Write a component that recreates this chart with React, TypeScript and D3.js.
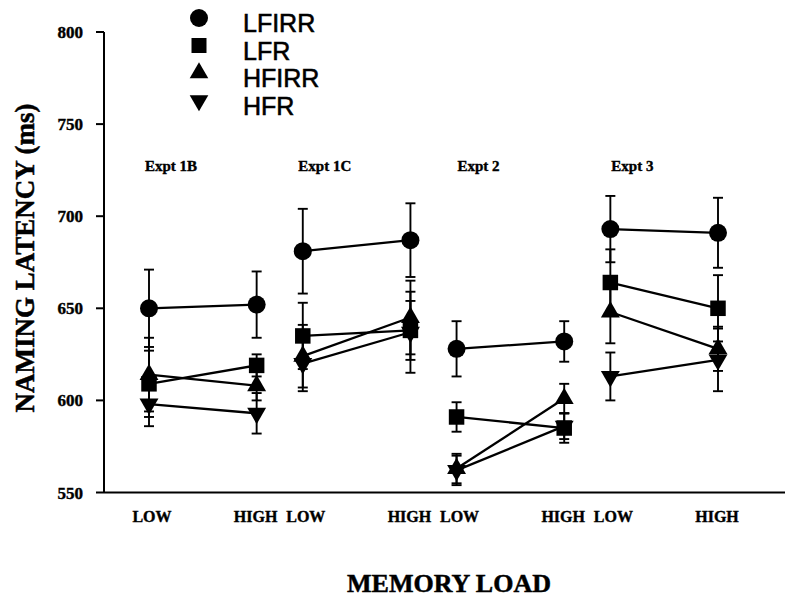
import React from 'react'
import * as d3 from 'd3'

// four experiments, each measured at two memory loads
const experiments = ['Expt 1B', 'Expt 1C', 'Expt 2', 'Expt 3']
const loads = ['LOW', 'HIGH']
const yTicks = [550, 600, 650, 700, 750, 800]

// means (ms), ordered exp1 LOW, exp1 HIGH, exp2 LOW, ...
const lfirr = [650, 652, 681, 687, 628, 632, 693, 691]
const lfr = [609, 619, 635, 638, 591, 585, 664, 650]
const hfirr = [614, 608, 624, 645, 563, 601, 648, 628]
const hfr = [598, 593, 620, 637, 562, 586, 613, 622]

// standard errors
const lfirrErr = [21, 18, 23, 20, 15, 11, 18, 19]
const lfrErr = [18, 6, 18, 16, 8, 8, 18, 18]
const hfirrErr = [20, 8, 17, 20, 8, 8, 17, 12]
const hfrErr = [12, 11, 15, 22, 8, 7, 13, 17]

const seriesNames = ['LFIRR', 'LFR', 'HFIRR', 'HFR']

const serif = '"Liberation Serif", "Times New Roman", serif'
const sans = '"Liberation Sans", Arial, sans-serif'

const App = () => {
  const width = 785
  const height = 599

  // an experiment is one unit wide, HIGH sits 0.7 after LOW
  const xScale = d3.scaleLinear().domain([0, 3.7]).range([149, 718])
  const yScale = d3.scaleLinear().domain([550, 800]).range([492.5, 32])
  const pos = (i: number) => Math.floor(i / 2) + (i % 2) * 0.7

  const symbols = [
    { type: d3.symbolCircle, size: Math.PI * 9 * 9, rotate: 0 },
    { type: d3.symbolSquare, size: 15.5 * 15.5, rotate: 0 },
    { type: d3.symbolTriangle, size: 155, rotate: 0 },
    { type: d3.symbolTriangle, size: 155, rotate: 180 },
  ]
  const legendSymbols = [
    { type: d3.symbolCircle, size: Math.PI * 9 * 9, rotate: 0 },
    { type: d3.symbolSquare, size: 15 * 15, rotate: 0 },
    { type: d3.symbolTriangle, size: 150, rotate: 0 },
    { type: d3.symbolTriangle, size: 150, rotate: 180 },
  ]

  const series = [
    { name: seriesNames[0], values: lfirr, errs: lfirrErr },
    { name: seriesNames[1], values: lfr, errs: lfrErr },
    { name: seriesNames[2], values: hfirr, errs: hfirrErr },
    { name: seriesNames[3], values: hfr, errs: hfrErr },
  ]

  const line = d3
    .line<number>()
    .x((d, i) => xScale(i * 0.7))
    .y(d => yScale(d))

  const x0 = 104
  const yBottom = yScale(550)

  return (
    <svg
      width={width}
      height={height}
      style={{ position: 'absolute', left: 0, top: 0, background: '#fff' }}
    >
      {/* axes */}
      <line x1={x0} x2={x0} y1={yScale(800)} y2={yBottom} stroke="#000" strokeWidth={2} />
      <line x1={x0} x2={785} y1={yBottom} y2={yBottom} stroke="#000" strokeWidth={2} />
      {yTicks.map(t => (
        <g key={t} transform={`translate(0,${yScale(t)})`}>
          <line x1={x0 - 8} x2={x0} stroke="#000" strokeWidth={2} />
          <text
            x={83}
            y={6}
            textAnchor="end"
            fontFamily={serif}
            fontWeight="bold"
            fontSize={17}
            stroke="#000"
            strokeWidth={0.4}
          >
            {t}
          </text>
        </g>
      ))}
      <text
        transform={`translate(34,258) rotate(-90)`}
        textAnchor="middle"
        fontFamily={serif}
        fontWeight="bold"
        fontSize={27}
        stroke="#000"
        strokeWidth={0.5}
      >
        NAMING LATENCY (ms)
      </text>

      {/* x labels */}
      {experiments.map((e, ei) =>
        loads.map((l, li) => (
          <text
            key={e + l}
            x={xScale(ei + li * 0.7) + (li === 0 ? 3 : -1)}
            y={522}
            textAnchor="middle"
            fontFamily={serif}
            fontWeight="bold"
            fontSize={16}
            stroke="#000"
            strokeWidth={0.4}
          >
            {l}
          </text>
        ))
      )}
      <text
        x={449}
        y={592}
        textAnchor="middle"
        fontFamily={serif}
        fontWeight="bold"
        fontSize={26}
        stroke="#000"
        strokeWidth={0.5}
      >
        MEMORY LOAD
      </text>

      {/* experiment titles */}
      {experiments.map((e, ei) => (
        <text
          key={e}
          x={xScale(ei) + 22}
          y={171}
          textAnchor="middle"
          fontFamily={serif}
          fontWeight="bold"
          fontSize={15}
          stroke="#000"
          strokeWidth={0.4}
        >
          {e}
        </text>
      ))}

      {/* connecting lines */}
      {series.map(s =>
        experiments.map((e, ei) => (
          <path
            key={s.name + e}
            transform={`translate(${xScale(ei) - xScale(0)},0)`}
            d={line(s.values.slice(ei * 2, ei * 2 + 2)) || ''}
            fill="none"
            stroke="#000"
            strokeWidth={2.3}
          />
        ))
      )}

      {/* error bars */}
      {series.map(s =>
        s.values.map((v, i) => {
          const cx = xScale(pos(i))
          const top = yScale(v + s.errs[i])
          const bot = yScale(v - s.errs[i])
          return (
            <g key={s.name + 'e' + i} stroke="#000" strokeWidth={1.9}>
              <line x1={cx} x2={cx} y1={top} y2={bot} />
              <line x1={cx - 5} x2={cx + 5} y1={top} y2={top} />
              <line x1={cx - 5} x2={cx + 5} y1={bot} y2={bot} />
            </g>
          )
        })
      )}

      {/* markers */}
      {series.map((s, si) =>
        s.values.map((v, i) => (
          <path
            key={s.name + 'm' + i}
            d={d3.symbol().type(symbols[si].type).size(symbols[si].size)() || ''}
            transform={`translate(${xScale(pos(i))},${yScale(v)}) rotate(${symbols[si].rotate})`}
            fill="#000"
          />
        ))
      )}

      {/* legend */}
      {seriesNames.map((n, i) => {
        const cy = 22 + i * 27.5
        return (
          <g key={n}>
            <path
              d={d3.symbol().type(legendSymbols[i].type).size(legendSymbols[i].size)() || ''}
              transform={`translate(199,${cy - 4}) rotate(${legendSymbols[i].rotate})`}
              fill="#000"
            />
            <text
              x={243}
              y={cy + 10}
              fontFamily={sans}
              fontSize={25}
              stroke="#000"
              strokeWidth={0.6}
            >
              {n}
            </text>
          </g>
        )
      })}
    </svg>
  )
}

export default App
